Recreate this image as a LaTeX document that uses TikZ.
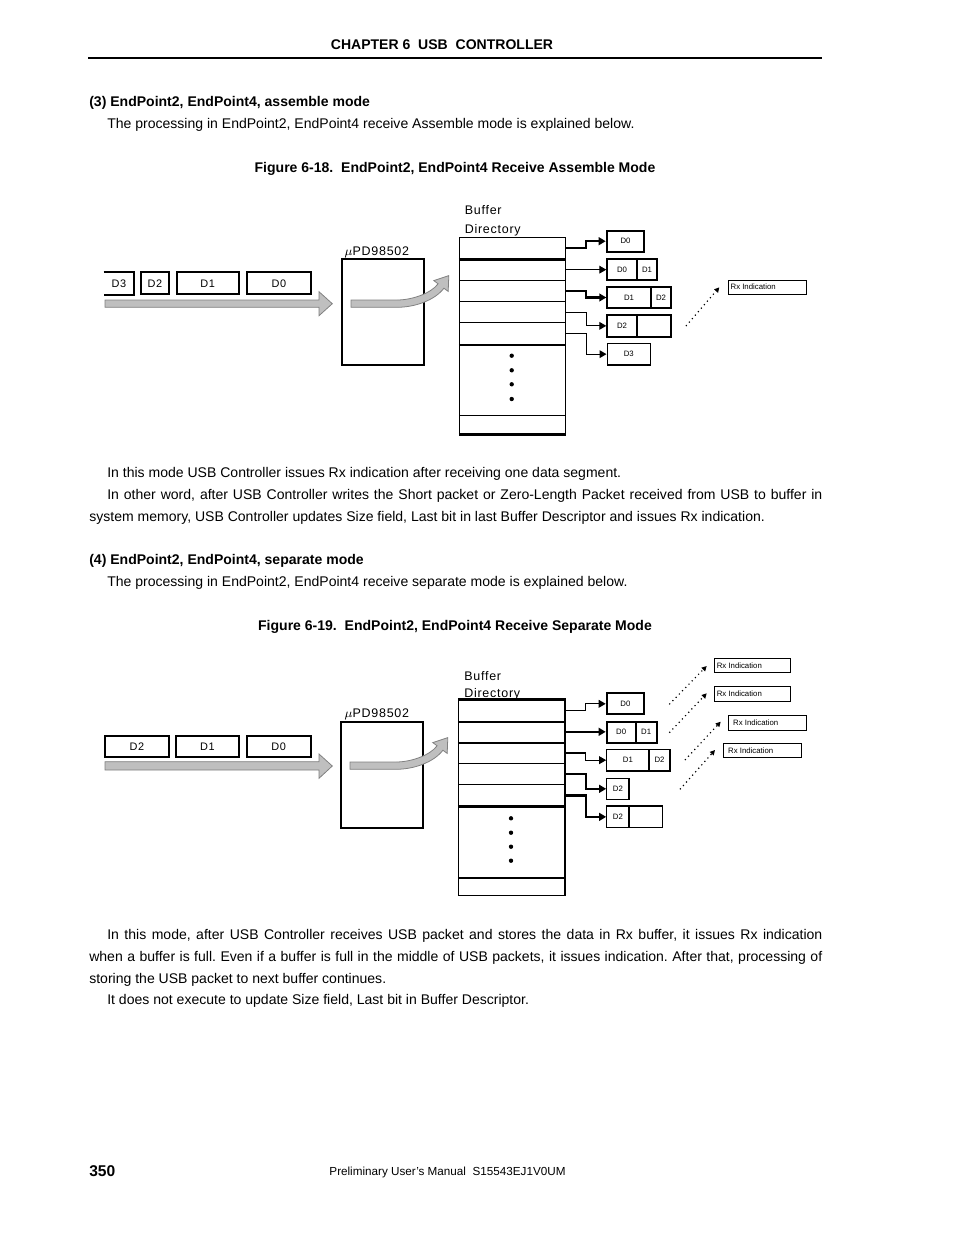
\documentclass[tikz,border=0pt]{standalone}
\usepackage{fontspec}
\setmainfont{Liberation Sans}
\newfontfamily\dfont[LetterSpace=6]{Liberation Sans}
\usetikzlibrary{arrows.meta,fit,calc}
\frenchspacing
\tikzset{
  body/.style={anchor=base west, inner sep=0, font=\fontsize{9}{11}\selectfont},
  hd/.style={anchor=base west, inner sep=0, font=\fontsize{9}{11}\selectfont\bfseries},
  dtext/.style={anchor=base west, inner sep=0, font=\dfont\fontsize{8}{9}\selectfont},
  bx/.style={draw, inner sep=0, line width=1.3pt},
  bxthin/.style={draw, inner sep=0, line width=0.7pt},
  rxbox/.style={draw, inner sep=0, line width=0.6pt},
  cell/.style={draw, inner sep=0, line width=0.65pt},
  thickline/.style={line width=1.4pt},
  conn/.style={line width=0.7pt, -{Triangle[length=4.5pt,width=5pt]}},
  connthick/.style={conn, line width=1.4pt},
  dlab/.style={font=\dfont\fontsize{7}{8}\selectfont, inner sep=0},
  slab/.style={font=\fontsize{5}{6}\selectfont, inner sep=0},
  rxarrow/.style={line width=0.75pt, dash pattern=on 0.75pt off 2.2pt, -{Triangle[length=3.2pt,width=3.2pt]}},
  bigarrow/.style={fill=black!25, draw=black!50, line width=0.5pt},
  dot/.style={fill=black},
}
\begin{document}
\begin{tikzpicture}[x=0.6415pt,y=-0.6415pt]
\useasboundingbox (0,0) rectangle (954,1235);
\fill[white] (0,0) rectangle (954,1235);

% ---------- page text ----------
\node[hd, anchor=base] (hdr) at (442,49) {CHAPTER 6\ \ USB\ \ CONTROLLER};
\draw[line width=0.7pt] (88,58) -- (822,58);
\node[hd] (s3) at (89,106) {(3) EndPoint2, EndPoint4, assemble mode};
\node[body] (p3) at (107,128) {The processing in EndPoint2, EndPoint4 receive Assemble mode is explained below.};
\node[hd, anchor=base] (cap1) at (455,172) {Figure 6-18.\ \ EndPoint2, EndPoint4 Receive Assemble Mode};
\node[body] (t1) at (107,477) {In this mode USB Controller issues Rx indication after receiving one data segment.};
\node[body] (t2) at (107,499) {\makebox[458.7pt][s]{In other word, after USB Controller writes the Short packet or Zero-Length Packet received from USB to buffer in}};
\node[body] (t3) at (89,521) {system memory, USB Controller updates Size field, Last bit in last Buffer Descriptor and issues Rx indication.};
\node[hd] (s4) at (89,564) {(4) EndPoint2, EndPoint4, separate mode};
\node[body] (p4) at (107,586) {The processing in EndPoint2, EndPoint4 receive separate mode is explained below.};
\node[hd, anchor=base] (cap2) at (455,630) {Figure 6-19.\ \ EndPoint2, EndPoint4 Receive Separate Mode};
\node[body] (u1) at (107,939) {\makebox[458.7pt][s]{In this mode, after USB Controller receives USB packet and stores the data in Rx buffer, it issues Rx indication}};
\node[body] (u2) at (89,961) {\makebox[470.2pt][s]{when a buffer is full. Even if a buffer is full in the middle of USB packets, it issues indication. After that, processing of}};
\node[body] (u3) at (89,983) {storing the USB packet to next buffer continues.};
\node[body] (u4) at (107,1004) {It does not execute to update Size field, Last bit in Buffer Descriptor.};
\node[anchor=base west, inner sep=0, font=\fontsize{10}{12}\selectfont\bfseries] (pg) at (89,1176) {350};
\node[anchor=base, inner sep=0, font=\fontsize{7.5}{9}\selectfont] (ft) at (447.5,1175) {Preliminary User’s Manual\ \ S15543EJ1V0UM};

% ================= FIGURE 6-18 =================
% data segments
\node[inner sep=0, fit={(104,272.3)(134,294.3)}] (fa3) {};
\draw[line width=1.3pt] (fa3.north west) -- (fa3.north east) -- (fa3.south east) -- (fa3.south west);
\node[bx, fit={(140.7,272.3)(169,294.3)}] (fa2) {};
\node[bx, fit={(176.7,272.3)(238.7,294.3)}] (fa1) {};
\node[bx, fit={(246.7,272.3)(311,294.3)}] (fa0) {};
\node[dlab] (fa3t) at (fa3) {D3};
\node[dlab] (fa2t) at (fa2) {D2};
\node[dlab] (fa1t) at (fa1) {D1};
\node[dlab] (fa0t) at (fa0) {D0};
\path[bigarrow] (105,300) -- (319,300) -- (319,291.7) -- (332.3,303.7) -- (319,315.7) -- (319,307.3) -- (105,307.3) -- cycle;

% chip
\node[bx, fit={(342.3,258.7)(424,365)}] (chipA) {};
\node[dtext] (chipAl) at (344.3,255) {$\mu$PD98502};
\path[bigarrow] (351,300) -- (397,300) .. controls (412,300) and (430.9,293.4) .. (438.1,283.8)
  -- (433.8,280.6) -- (448.8,275.6) -- (448.2,291.4) -- (443.9,288.2)
  .. controls (434.9,300.2) and (415,307.3) .. (397,307.3) -- (351,307.3) -- cycle;

% buffer directory
\node[dtext] (bufAa) at (464.5,214.3) {Buffer};
\node[dtext] (bufAb) at (464.5,233.3) {Directory};
\node[cell, fit={(459.3,237.7)(565.7,259)}] (ra1) {};
\node[cell, fit={(459.3,259)(565.7,280.3)}] (ra2) {};
\node[cell, fit={(459.3,280.3)(565.7,301.6)}] (ra3) {};
\node[cell, fit={(459.3,301.6)(565.7,322.9)}] (ra4) {};
\node[cell, fit={(459.3,322.9)(565.7,344.2)}] (ra5) {};
\node[cell, fit={(459.3,344.2)(565.7,415.3)}] (rad) {};
\node[cell, fit={(459.3,415.3)(565.7,434)}] (ral) {};
\draw[thickline] (ra1.south west) -- (ra1.south east);
\draw[thickline] (ra5.south west) -- (ra5.south east);
\draw[thickline] (ral.south west) -- (ral.south east);
\foreach \yy in {355.7,370.3,384.3,399} \fill[dot] (511.7,\yy) circle[radius=1.4pt];

% buffers
\node[bx, fit={(606.7,230.7)(644.3,251.7)}] (ba1) {};
\node[bx, fit={(607.3,259)(636.7,280)}] (ba2a) {};
\node[bx, fit={(636.7,259)(657.3,280)}] (ba2b) {};
\node[bx, fit={(607.3,286.7)(650.7,308.3)}] (ba3a) {};
\node[bx, fit={(650.7,286.7)(671.3,308.3)}] (ba3b) {};
\node[bx, fit={(607.3,315)(636.7,336.7)}] (ba4a) {};
\node[bx, fit={(636.7,315)(671.3,336.7)}] (ba4b) {};
\node[bxthin, line width=1pt, fit={(607.3,343.3)(650.3,365)}] (ba5) {};
\node[slab] (ba1t) at (ba1) {D0};
\node[slab] (ba2at) at (ba2a) {D0};
\node[slab] (ba2bt) at (ba2b) {D1};
\node[slab] (ba3at) at (ba3a) {D1};
\node[slab] (ba3bt) at (ba3b) {D2};
\node[slab] (ba4at) at (ba4a) {D2};
\node[slab] (ba5t) at (ba5) {D3};

\draw[connthick] (ra1.east) -| ($(ra1.east)!.5!(ba1.west)$) |- (ba1.west);
\draw[conn] (ra2.east) -- (ra2.east -| ba2a.west);
\draw[connthick] (ra3.east) -| ($(ra3.east)!.5!(ba3a.west)$) |- (ba3a.west);
\draw[conn] (ra4.east) -| ($(ra4.east)!.5!(ba4a.west)$) |- (ba4a.west);
\draw[conn] (ra5.east) -| ($(ra5.east)!.5!(ba5.west)$) |- (ba5.west);

% Rx indication
\node[rxbox, fit={(728.3,280)(806.7,294.3)}] (rxa) {};
\node[slab, anchor=west] (rxal) at ($(rxa.west)+(2.5,0)$) {Rx Indication};
\coordinate (rxas) at (686,326);
\coordinate (rxae) at (719.3,287.3);
\draw[rxarrow] (rxas) -- (rxae);

% ================= FIGURE 6-19 =================
\node[bx, fit={(105,736)(169,757.3)}] (fb2) {};
\node[bx, fit={(175.7,736)(239.3,757.3)}] (fb1) {};
\node[bx, fit={(246.7,736)(310.7,757.3)}] (fb0) {};
\node[dlab] (fb2t) at (fb2) {D2};
\node[dlab] (fb1t) at (fb1) {D1};
\node[dlab] (fb0t) at (fb0) {D0};
\path[bigarrow] (105,761.7) -- (319,761.7) -- (319,754) -- (332.3,766) -- (319,778.3) -- (319,770) -- (105,770) -- cycle;

\node[bx, fit={(341.3,721.7)(423.3,828.3)}] (chipB) {};
\node[dtext] (chipBl) at (344.3,717.7) {$\mu$PD98502};
\begin{scope}[shift={(-1,462)}]
\path[bigarrow] (351,300) -- (397,300) .. controls (412,300) and (430.9,293.4) .. (438.1,283.8)
  -- (433.8,280.6) -- (448.8,275.6) -- (448.2,291.4) -- (443.9,288.2)
  .. controls (434.9,300.2) and (415,307.3) .. (397,307.3) -- (351,307.3) -- cycle;
\end{scope}

\node[dtext] (bufBa) at (464,680) {Buffer};
\node[dtext] (bufBb) at (464,697) {Directory};
\node[cell, fit={(458.3,700)(565,721.2)}] (rb1) {};
\node[cell, fit={(458.3,721.2)(565,742.4)}] (rb2) {};
\node[cell, fit={(458.3,742.4)(565,763.6)}] (rb3) {};
\node[cell, fit={(458.3,763.6)(565,784.8)}] (rb4) {};
\node[cell, fit={(458.3,784.8)(565,806)}] (rb5) {};
\node[cell, fit={(458.3,806)(565,877.3)}] (rbd) {};
\node[cell, fit={(458.3,877.3)(565,895)}] (rbl) {};
\draw[thickline] (rb1.north west) -- (rb1.north east);
\draw[thickline] (rb1.south west) -- (rb1.south east);
\draw[thickline] (rb2.south west) -- (rb2.south east);
\draw[thickline] (rb5.south west) -- (rb5.south east);
\draw[thickline] (rbd.south west) -- (rbd.south east);
\foreach \yy in {818.3,832.7,846.7,860.7} \fill[dot] (511,\yy) circle[radius=1.4pt];

\node[bx, fit={(606.7,693.3)(644,714.3)}] (bb1) {};
\node[bx, fit={(606.7,721.7)(635.7,742.7)}] (bb2a) {};
\node[bx, fit={(635.7,721.7)(656.7,742.7)}] (bb2b) {};
\node[bxthin, fit={(606.7,749.3)(649,771)}] (bb3a) {};
\node[bxthin, fit={(649,749.3)(670,771)}] (bb3b) {};
\node[bxthin, fit={(606.7,778.3)(629,799.3)}] (bb4) {};
\node[bxthin, fit={(606.7,806)(629,827.7)}] (bb5a) {};
\node[bxthin, fit={(629,806)(662.7,827.7)}] (bb5b) {};
\node[slab] (bb1t) at (bb1) {D0};
\node[slab] (bb2at) at (bb2a) {D0};
\node[slab] (bb2bt) at (bb2b) {D1};
\node[slab] (bb3at) at (bb3a) {D1};
\node[slab] (bb3bt) at (bb3b) {D2};
\node[slab] (bb4t) at (bb4) {D2};
\node[slab] (bb5at) at (bb5a) {D2};

\draw[conn] (rb1.east) -| ($(rb1.east)!.5!(bb1.west)$) |- (bb1.west);
\draw[connthick] (rb2.east) -- (rb2.east -| bb2a.west);
\draw[conn] (rb3.east) -| ($(rb3.east)!.5!(bb3a.west)$) |- (bb3a.west);
\draw[connthick] (rb4.east) -| ($(rb4.east)!.5!(bb4.west)$) |- (bb4.west);
\draw[connthick] (rb5.east) -| ($(rb5.east)!.5!(bb5a.west)$) |- (bb5a.west);

\node[rxbox, fit={(714,658.3)(790.7,672.3)}] (rxb1) {};
\node[rxbox, fit={(714,686.7)(790.7,701.7)}] (rxb2) {};
\node[rxbox, fit={(728.3,715)(806.7,730)}] (rxb3) {};
\node[rxbox, fit={(723.3,743.3)(801.7,757.3)}] (rxb4) {};
\node[slab, anchor=west] (rxb1l) at ($(rxb1.west)+(3,0)$) {Rx Indication};
\node[slab, anchor=west] (rxb2l) at ($(rxb2.west)+(3,0)$) {Rx Indication};
\node[slab, anchor=west] (rxb3l) at ($(rxb3.west)+(5,0)$) {Rx Indication};
\node[slab, anchor=west] (rxb4l) at ($(rxb4.west)+(5,0)$) {Rx Indication};
\coordinate (rxb1s) at (669.3,704.3); \coordinate (rxb1e) at (706.7,666);
\coordinate (rxb2s) at (669.3,732.7); \coordinate (rxb2e) at (706.7,693.3);
\coordinate (rxb3s) at (685,760);     \coordinate (rxb3e) at (720.7,721.7);
\coordinate (rxb4s) at (680,789.3);   \coordinate (rxb4e) at (715,750);
\draw[rxarrow] (rxb1s) -- (rxb1e);
\draw[rxarrow] (rxb2s) -- (rxb2e);
\draw[rxarrow] (rxb3s) -- (rxb3e);
\draw[rxarrow] (rxb4s) -- (rxb4e);
\end{tikzpicture}
\end{document}
